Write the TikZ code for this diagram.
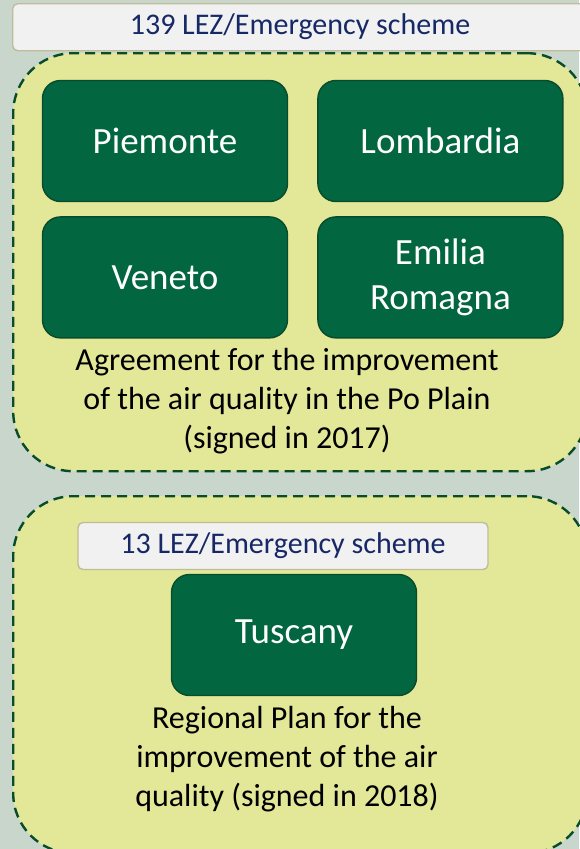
\documentclass[tikz,border=0pt]{standalone}
\usepackage{fontspec}
\setmainfont{Carlito}
\usepackage{tikz}
\usetikzlibrary{positioning}
\definecolor{bgcol}{RGB}{200,214,204}
\definecolor{panelcol}{RGB}{227,231,152}
\definecolor{regcol}{RGB}{2,102,64}
\definecolor{regedge}{RGB}{8,76,44}
\definecolor{navytext}{RGB}{22,40,102}
\definecolor{headfill}{RGB}{241,241,241}
\definecolor{headedge}{RGB}{192,188,152}

\begin{document}
\begin{tikzpicture}[
  x=1pt, y=-1pt,
  node distance=14pt and 29pt,
  groupbox/.style={draw=regedge, line width=2.4pt, dash pattern=on 10pt off 6pt,
    fill=panelcol, rounded corners=60pt, anchor=north west},
  headbox/.style={draw=headedge, line width=1.4pt, fill=headfill, rounded corners=5pt,
    minimum height=47pt, text=navytext, font=\fontsize{30}{33}\selectfont},
  regbox/.style={draw=regedge, line width=1.4pt, fill=regcol, rounded corners=18pt,
    minimum width=245pt, minimum height=121pt, text=white, align=center,
    font=\fontsize{37}{45}\selectfont},
  captext/.style={align=center, font=\fontsize{32}{39}\selectfont},
]
\useasboundingbox (0,0) rectangle (579,849);
\fill[bgcol] (0,0) rectangle (579,849);

% Po Plain agreement
\node[groupbox, minimum width=574pt, minimum height=418pt] (popanel) at (12,52) {};
\node[headbox, minimum width=590pt, anchor=north west] (pohead) at (12,3) {};
\node[text=navytext, font=\fontsize{30}{33}\selectfont] (potitle) at (300,27) {139 LEZ/Emergency scheme};

\node[regbox] (piem) at (165,141) {Piemonte};
\node[regbox, right=of piem] (lomb) {Lombardia};
\node[regbox, below=of piem] (vene) {Veneto};
\node[regbox, below=of lomb] (emil) {Emilia\\Romagna};

\node[captext] (pocap) at (287,401) {Agreement for the improvement\\of the air quality in the Po Plain\\(signed in 2017)};

% Tuscany plan
\node[groupbox, minimum width=574pt, minimum height=357pt] (tupanel) at (12,495) {};
\node[headbox, minimum width=410pt] (tuhead) at (283,546) {13 LEZ/Emergency scheme};
\node[regbox] (tusc) at (294,635) {Tuscany};
\node[captext] (tucap) at (287,759) {Regional Plan for the\\improvement of the air\\quality (signed in 2018)};
\end{tikzpicture}
\end{document}
